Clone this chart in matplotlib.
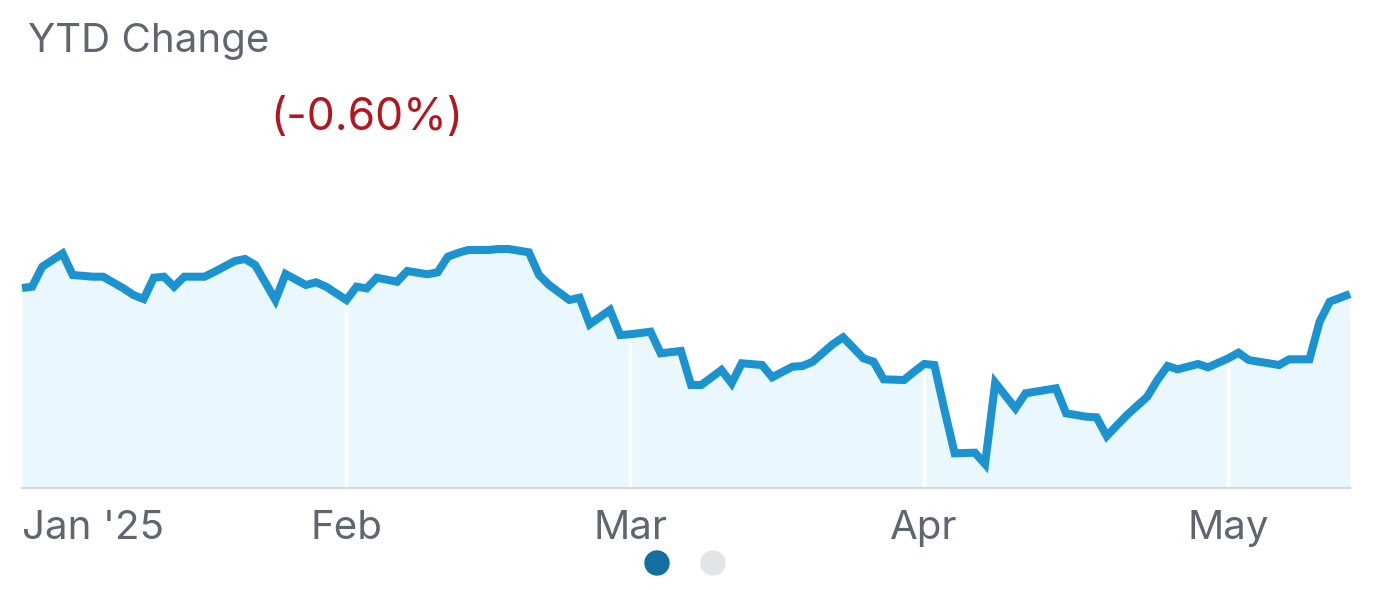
#!/usr/bin/env python3
"""YTD change line chart (Jan '25 - mid May)."""
import matplotlib
matplotlib.use("Agg")
import matplotlib.pyplot as plt
import numpy as np
from matplotlib.patches import Ellipse

LINE = "#1b93d0"
FILL = "#eaf7fd"
GRAY_TEXT = "#5f6670"
RED = "#b3161f"

dates = [
    "2025-01-02", "2025-01-03", "2025-01-04", "2025-01-06", "2025-01-07", "2025-01-09",
    "2025-01-10", "2025-01-12", "2025-01-13", "2025-01-14", "2025-01-15", "2025-01-16",
    "2025-01-17", "2025-01-18", "2025-01-20", "2025-01-21", "2025-01-23", "2025-01-24",
    "2025-01-25", "2025-01-27", "2025-01-28", "2025-01-30", "2025-01-31", "2025-02-01",
    "2025-02-03", "2025-02-04", "2025-02-05", "2025-02-06", "2025-02-08", "2025-02-09",
    "2025-02-11", "2025-02-12", "2025-02-13", "2025-02-14", "2025-02-15", "2025-02-17",
    "2025-02-18", "2025-02-19", "2025-02-21", "2025-02-22", "2025-02-23", "2025-02-25",
    "2025-02-26", "2025-02-27", "2025-03-01", "2025-03-02", "2025-03-03", "2025-03-05",
    "2025-03-06", "2025-03-08", "2025-03-09", "2025-03-10", "2025-03-12", "2025-03-13",
    "2025-03-14", "2025-03-16", "2025-03-17", "2025-03-19", "2025-03-20", "2025-03-21",
    "2025-03-23", "2025-03-24", "2025-03-26", "2025-03-27", "2025-03-28", "2025-03-30",
    "2025-03-31", "2025-04-01", "2025-04-02", "2025-04-03", "2025-04-04", "2025-04-06",
    "2025-04-07", "2025-04-08", "2025-04-10", "2025-04-11", "2025-04-14", "2025-04-15",
    "2025-04-17", "2025-04-18", "2025-04-19", "2025-04-21", "2025-04-23", "2025-04-24",
    "2025-04-25", "2025-04-26", "2025-04-28", "2025-04-29", "2025-05-01", "2025-05-02",
    "2025-05-03", "2025-05-06", "2025-05-07", "2025-05-09", "2025-05-10", "2025-05-11",
    "2025-05-13",
]
ytd_pct = [
    0.00, 0.13, 2.13, 3.45, 1.30, 1.13,
    1.13, -0.03, -0.70, -1.10, 1.03, 1.13,
    0.13, 1.13, 1.13, 1.63, 2.70, 2.90,
    2.30, -1.20, 1.40, 0.30, 0.57, 0.13,
    -1.20, 0.13, -0.03, 1.03, 0.63, 1.70,
    1.37, 1.57, 3.13, 3.50, 3.80, 3.80,
    3.90, 3.90, 3.57, 1.30, 0.30, -1.20,
    -0.97, -3.63, -2.20, -4.70, -4.63, -4.37,
    -6.53, -6.30, -9.70, -9.70, -8.20, -9.53,
    -7.53, -7.70, -8.93, -7.87, -7.80, -7.37,
    -5.60, -4.93, -7.03, -7.37, -9.13, -9.20,
    -8.37, -7.60, -7.70, -12.20, -16.53, -16.47,
    -17.60, -9.47, -12.03, -10.53, -10.03, -12.53,
    -12.87, -12.93, -14.80, -12.70, -10.87, -9.20,
    -7.80, -8.13, -7.60, -7.93, -7.03, -6.47,
    -7.20, -7.70, -7.13, -7.13, -3.37, -1.37,
    -0.60,
]
month_starts = ["2025-02-03", "2025-03-03", "2025-04-01", "2025-05-01"]
month_labels = ["Feb", "Mar", "Apr", "May"]
first_label = "Jan '25"
title = "YTD Change"
change_text = "(-0.60%)"

plt.rcParams["font.family"] = ["Inter", "DejaVu Sans"]

x = np.array(dates, dtype="datetime64[D]")
y = np.array(ytd_pct)
ybase = -20.0

W, H = 1378, 590
fig = plt.figure(figsize=(W / 100, H / 100), dpi=100)
ax = fig.add_axes([22 / W, 1 - 488 / H, 1328 / W, 288 / H])

ax.fill_between(x, y, ybase, color=FILL, linewidth=0, zorder=1)
for m in month_starts:
    ax.axvline(np.datetime64(m), color="white", linewidth=2.5, zorder=2)
ax.plot(x, y, color=LINE, linewidth=5.8, solid_joinstyle="miter",
        solid_capstyle="butt", zorder=3, clip_on=False)

ax.set_xlim(x[0], x[-1])
ax.set_ylim(ybase, 8.8)
for s in ["top", "left", "right"]:
    ax.spines[s].set_visible(False)
ax.spines["bottom"].set_color("#d3d7db")
ax.spines["bottom"].set_linewidth(1.5)
ax.set_yticks([])
ax.set_xticks([])

trans = ax.get_xaxis_transform()
ax.text(x[0], -0.14, first_label, transform=trans, ha="left", va="center",
        fontsize=29, color=GRAY_TEXT)
for m, lab in zip(month_starts, month_labels):
    ax.text(np.datetime64(m), -0.14, lab, transform=trans, ha="center",
            va="center", fontsize=29, color=GRAY_TEXT)

fig.text(28 / W, 1 - 41 / H, title, ha="left", va="center",
         fontsize=29, color=GRAY_TEXT)
fig.text(270 / W, 1 - 118 / H, change_text, ha="left", va="center",
         fontsize=32, color=RED)

# pager dots
for cx, col in [(657, "#126f9f"), (713, "#e3e4e6")]:
    fig.patches.append(Ellipse((cx / W, 1 - 563 / H), 24 / W, 24 / H,
                               transform=fig.transFigure, color=col))

fig.savefig("out.png", dpi=100)
